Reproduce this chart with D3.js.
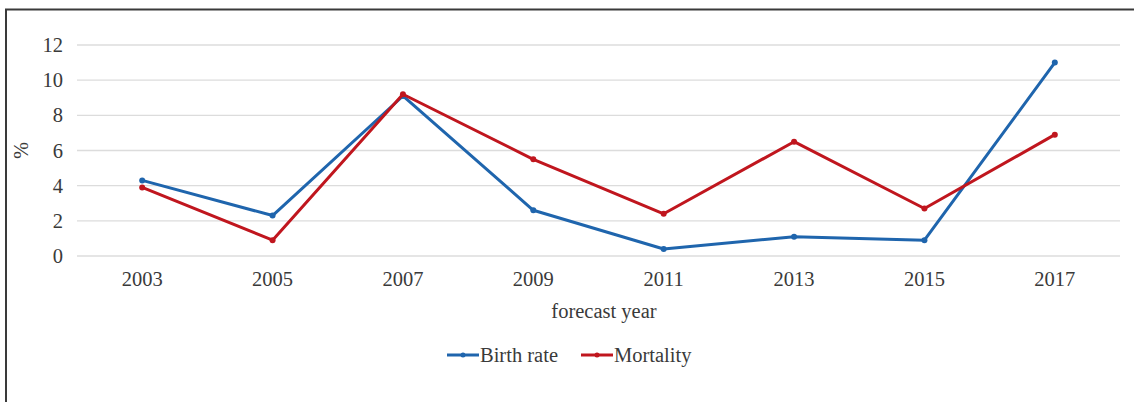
<!DOCTYPE html>
<html>
<head>
<meta charset="utf-8">
<script src="https://cdn.jsdelivr.net/npm/d3@7"></script>
<style>
  html, body { margin: 0; padding: 0; background: #fff; }
  svg { display: block; }
  text { font-family: "Liberation Serif", "DejaVu Serif", serif; fill: #3a3a3a; }
</style>
</head>
<body>
<svg id="chart" width="1134" height="402"></svg>
<script>
// Forecast years and the two series (percent)
const years = ["2003", "2005", "2007", "2009", "2011", "2013", "2015", "2017"];
const birthRate = [4.3, 2.3, 9.1, 2.6, 0.4, 1.1, 0.9, 11.0];
const mortality = [3.9, 0.9, 9.2, 5.5, 2.4, 6.5, 2.7, 6.9];
const yTicks = [0, 2, 4, 6, 8, 10, 12];
const seriesNames = ["Birth rate", "Mortality"];
const seriesColors = ["#1f65ad", "#c0161e"];

const FONT = "20.5px";
const svg = d3.select("#chart");

// Frame (top and left edges)
svg.append("path")
  .attr("d", "M6,402 V9.5 H1134")
  .attr("fill", "none")
  .attr("stroke", "#3a3a3a")
  .attr("stroke-width", 2);

const plot = { left: 77, right: 1120, top: 45, bottom: 256 };

const x = d3.scaleBand().domain(years).range([plot.left, plot.right]);
const y = d3.scaleLinear().domain([0, 12]).range([plot.bottom, plot.top]);

// Horizontal gridlines
svg.append("g")
  .selectAll("line")
  .data(yTicks)
  .join("line")
  .attr("x1", plot.left)
  .attr("x2", plot.right)
  .attr("y1", d => y(d))
  .attr("y2", d => y(d))
  .attr("stroke", "#dcdcdc")
  .attr("stroke-width", 1.3);

// Y axis labels
const yAxis = svg.append("g")
  .attr("transform", `translate(${plot.left - 14},0)`)
  .call(d3.axisLeft(y).tickValues(yTicks).tickSize(0).tickPadding(0));
yAxis.select(".domain").remove();
yAxis.selectAll("text")
  .style("font-family", "'Liberation Serif', serif")
  .style("font-size", FONT)
  .attr("fill", "#3a3a3a");

// X axis labels
const xAxis = svg.append("g")
  .attr("transform", `translate(0,${plot.bottom + 13})`)
  .call(d3.axisBottom(x).tickSize(0).tickPadding(2));
xAxis.select(".domain").remove();
xAxis.selectAll("text")
  .style("font-family", "'Liberation Serif', serif")
  .style("font-size", FONT)
  .attr("fill", "#3a3a3a");

// Axis titles
svg.append("text")
  .attr("transform", `translate(28,${y(6)}) rotate(-90)`)
  .attr("text-anchor", "middle")
  .style("font-size", FONT)
  .text("%");

svg.append("text")
  .attr("x", 604)
  .attr("y", 318)
  .attr("text-anchor", "middle")
  .style("font-size", FONT)
  .text("forecast year");

// Lines and markers
const series = [birthRate, mortality];
const line = d3.line()
  .x((d, i) => x(years[i]) + x.bandwidth() / 2)
  .y(d => y(d));

series.forEach((vals, si) => {
  svg.append("path")
    .datum(vals)
    .attr("d", line)
    .attr("fill", "none")
    .attr("stroke", seriesColors[si])
    .attr("stroke-width", 3)
    .attr("stroke-linejoin", "round");
  svg.append("g")
    .selectAll("circle")
    .data(vals)
    .join("circle")
    .attr("cx", (d, i) => x(years[i]) + x.bandwidth() / 2)
    .attr("cy", d => y(d))
    .attr("r", 3)
    .attr("fill", seriesColors[si]);
});

// Legend
const legendItems = [
  { name: seriesNames[0], color: seriesColors[0], x: 447 },
  { name: seriesNames[1], color: seriesColors[1], x: 581 }
];
const legend = svg.append("g").attr("transform", "translate(0,355)");
legendItems.forEach(it => {
  const g = legend.append("g").attr("transform", `translate(${it.x},0)`);
  g.append("line")
    .attr("x1", 0).attr("x2", 32)
    .attr("y1", 0).attr("y2", 0)
    .attr("stroke", it.color)
    .attr("stroke-width", 3);
  g.append("circle").attr("cx", 16).attr("cy", 0).attr("r", 2.5).attr("fill", it.color);
  g.append("text")
    .attr("x", 33)
    .attr("y", 7)
    .style("font-size", FONT)
    .text(it.name);
});
</script>
</body>
</html>
